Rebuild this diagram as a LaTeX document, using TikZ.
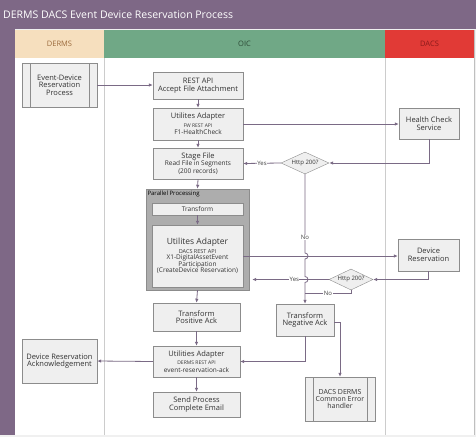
\documentclass[tikz,border=0pt]{standalone}
\usepackage{fontspec}
\setmainfont{Open Sans}
\usetikzlibrary{shapes.geometric, positioning, arrows.meta}

\definecolor{titlepurple}{HTML}{7E6886}
\definecolor{dermsbg}{HTML}{F6DFBE}
\definecolor{dermstxt}{HTML}{9B6A3C}
\definecolor{oicbg}{HTML}{70A886}
\definecolor{oictxt}{HTML}{2D4A36}
\definecolor{dacsbg}{HTML}{E13A36}
\definecolor{dacstxt}{HTML}{8A1A1A}
\definecolor{boxfill}{HTML}{EFEFEF}
\definecolor{boxline}{HTML}{8C8C8C}
\definecolor{flowcol}{HTML}{7A6A85}

\newcommand{\fs}[1]{\fontsize{#1}{#1}\selectfont}

\begin{document}
\begin{tikzpicture}[x=1pt, y=1pt,
    box/.style={rectangle, draw=boxline, fill=boxfill, align=center, inner sep=1pt, text=black!80, font=\fs{7.5}},
    subproc/.style={box, path picture={
        \draw[boxline] ([xshift=8pt]path picture bounding box.north west) -- ([xshift=8pt]path picture bounding box.south west);
        \draw[boxline] ([xshift=-8pt]path picture bounding box.north east) -- ([xshift=-8pt]path picture bounding box.south east);}},
    decision/.style={diamond, draw=boxline, fill=boxfill, aspect=2.2, inner sep=0pt, text=black!80, font=\fs{6}},
    flow/.style={draw=flowcol, line width=0.8pt, -{Latex[length=4pt, width=3.5pt]}},
    line/.style={draw=flowcol, line width=0.8pt},
    lbl/.style={fill=white, inner sep=0.5pt, font=\fs{6}, text=black!75}]

    \useasboundingbox (0,0) rectangle (476,-437);
    \fill[black!6] (0,0) rectangle (476,-437);

    % lanes
    \fill[titlepurple] (0,0) rectangle (476,-29);
    \fill[titlepurple] (0,-29) rectangle (15,-435);
    \fill[white] (15,-58) rectangle (474,-435);
    \fill[dermsbg] (15,-30) rectangle (104,-58);
    \fill[oicbg] (104,-30) rectangle (385,-58);
    \fill[dacsbg] (385,-30) rectangle (474,-58);
    \draw[black!20] (104,-58) -- (104,-435);
    \draw[black!20] (385,-58) -- (385,-435);
    \draw[black!25] (474,-30) -- (474,-435);
    \node[anchor=west, text=white, font=\fs{10.5}, inner sep=0pt] (title) at (3,-15) {DERMS DACS Event Device Reservation Process};
    \node[text=dermstxt, font=\fs{7.5}] (hderms) at (59.5,-44) {DERMS};
    \node[text=oictxt, font=\fs{7.5}] (hoic) at (244.5,-44) {OIC};
    \node[text=dacstxt, font=\fs{7.5}] (hdacs) at (429.5,-44) {DACS};

    % DERMS
    \node[subproc, minimum width=75, minimum height=44] (ev) at (59.5,-85) {Event-Device\\Reservation\\Process};
    \node[box, minimum width=75, minimum height=44] (dra) at (59.5,-361) {Device Reservation\\Acknowledgement};

    % OIC
    \node[box, minimum width=90, minimum height=27] (rest) at (198,-85.5) {REST API\\Accept File Attachment};
    \node[box, minimum width=90, minimum height=32] (ua1) at (198,-124) {Utilites Adapter\\[1pt]{\fs{5}FW REST API}\\{\fs{6.5}F1-HealthCheck}};
    \node[box, minimum width=90, minimum height=31] (stage) at (198,-163.5) {Stage File\\{\fs{6.5}Read File in Segments}\\{\fs{6.5}(200 records)}};
    \node[decision, minimum width=48, minimum height=22] (d1) at (305,-163) {Http 200?};

    \node[rectangle, draw=boxline, fill=black!32, minimum width=103, minimum height=101] (pp) at (197.5,-239.5) {};
    \node[anchor=north west, inner sep=1.5pt, font=\fs{6}] (pplbl) at (pp.north west) {Parallel Processing};
    \node[box, minimum width=91, minimum height=12, font=\fs{6.5}] (tr) at (197.5,-209) {Transform};
    \node[box, minimum width=91, minimum height=62, font=\fs{6.5}] (ua2) at (197.5,-256) {{\fs{8.5}Utilites Adapter}\\[2pt]{\fs{5.5}DACS REST API}\\X1-DigitalAssetEvent\\Participation\\(CreateDevice Reservation)};
    \node[decision, minimum width=44, minimum height=21] (d2) at (351,-279.5) {Http 200?};

    \node[box, minimum width=87, minimum height=28] (tpa) at (196.5,-317) {Transform\\Positive Ack};
    \node[box, minimum width=58, minimum height=32] (tna) at (305,-320) {Transform\\Negative Ack};
    \node[box, minimum width=87, minimum height=31] (ua3) at (196.5,-361.5) {Utilities Adapter\\[1pt]{\fs{5}DERMS REST API}\\{\fs{6.5}event-reservation-ack}};
    \node[box, minimum width=87, minimum height=25] (spe) at (196.5,-404.5) {Send Process\\Complete Email};
    \node[subproc, minimum width=70, minimum height=44, font=\fs{7}] (err) at (340,-399) {DACS DERMS\\Common Error\\handler};

    % DACS
    \node[box, minimum width=60, minimum height=31] (hc) at (429,-123.5) {Health Check\\Service};
    \node[box, minimum width=61, minimum height=32] (dr) at (428.5,-255) {Device\\Reservation};

    % connectors
    \draw[flow] (ev.east) -- (ev.east -| rest.west);
    \draw[flow] (rest.south) -- (ua1.north);
    \draw[flow] (ua1.south) -- (stage.north);
    \draw[flow] (ua1.east) -- (ua1.east -| hc.west);
    \draw[flow] (hc.south) |- (d1.east);
    \draw[flow] (d1.west) -- node[lbl] {Yes} (stage.east);
    \draw[flow] (stage.south) -- (pp.north);
    \draw[flow] (tr.south) -- (ua2.north);
    \draw[flow] (ua2.east) -- (ua2.east -| dr.west);
    \draw[flow] (dr.south) |- (d2.east);
    \draw[flow] (d2.west) -- node[lbl, pos=0.45] {Yes} ([xshift=3pt]d2.west -| pp.east);
    \draw[line] (d2.south) |- node[lbl, pos=0.75] {No} ([yshift=10pt]tna.north);
    \draw[flow] (d1.south) -- node[lbl, pos=0.8] {No} (305,-253) arc[start angle=90, end angle=-90, radius=3]
        -- (305,-276.5) arc[start angle=90, end angle=-90, radius=3] -- (tna.north);
    \draw[flow] (pp.south) -- (tpa.north);
    \draw[flow] (tpa.south) -- (ua3.north);
    \draw[flow] (ua3.south) -- (spe.north);
    \draw[flow] (ua3.west) -- (dra.east);
    \draw[flow] (tna.south) |- (ua3.east);
    \draw[flow] ([yshift=-2pt]tna.east) -| (err.north);
\end{tikzpicture}
\end{document}
